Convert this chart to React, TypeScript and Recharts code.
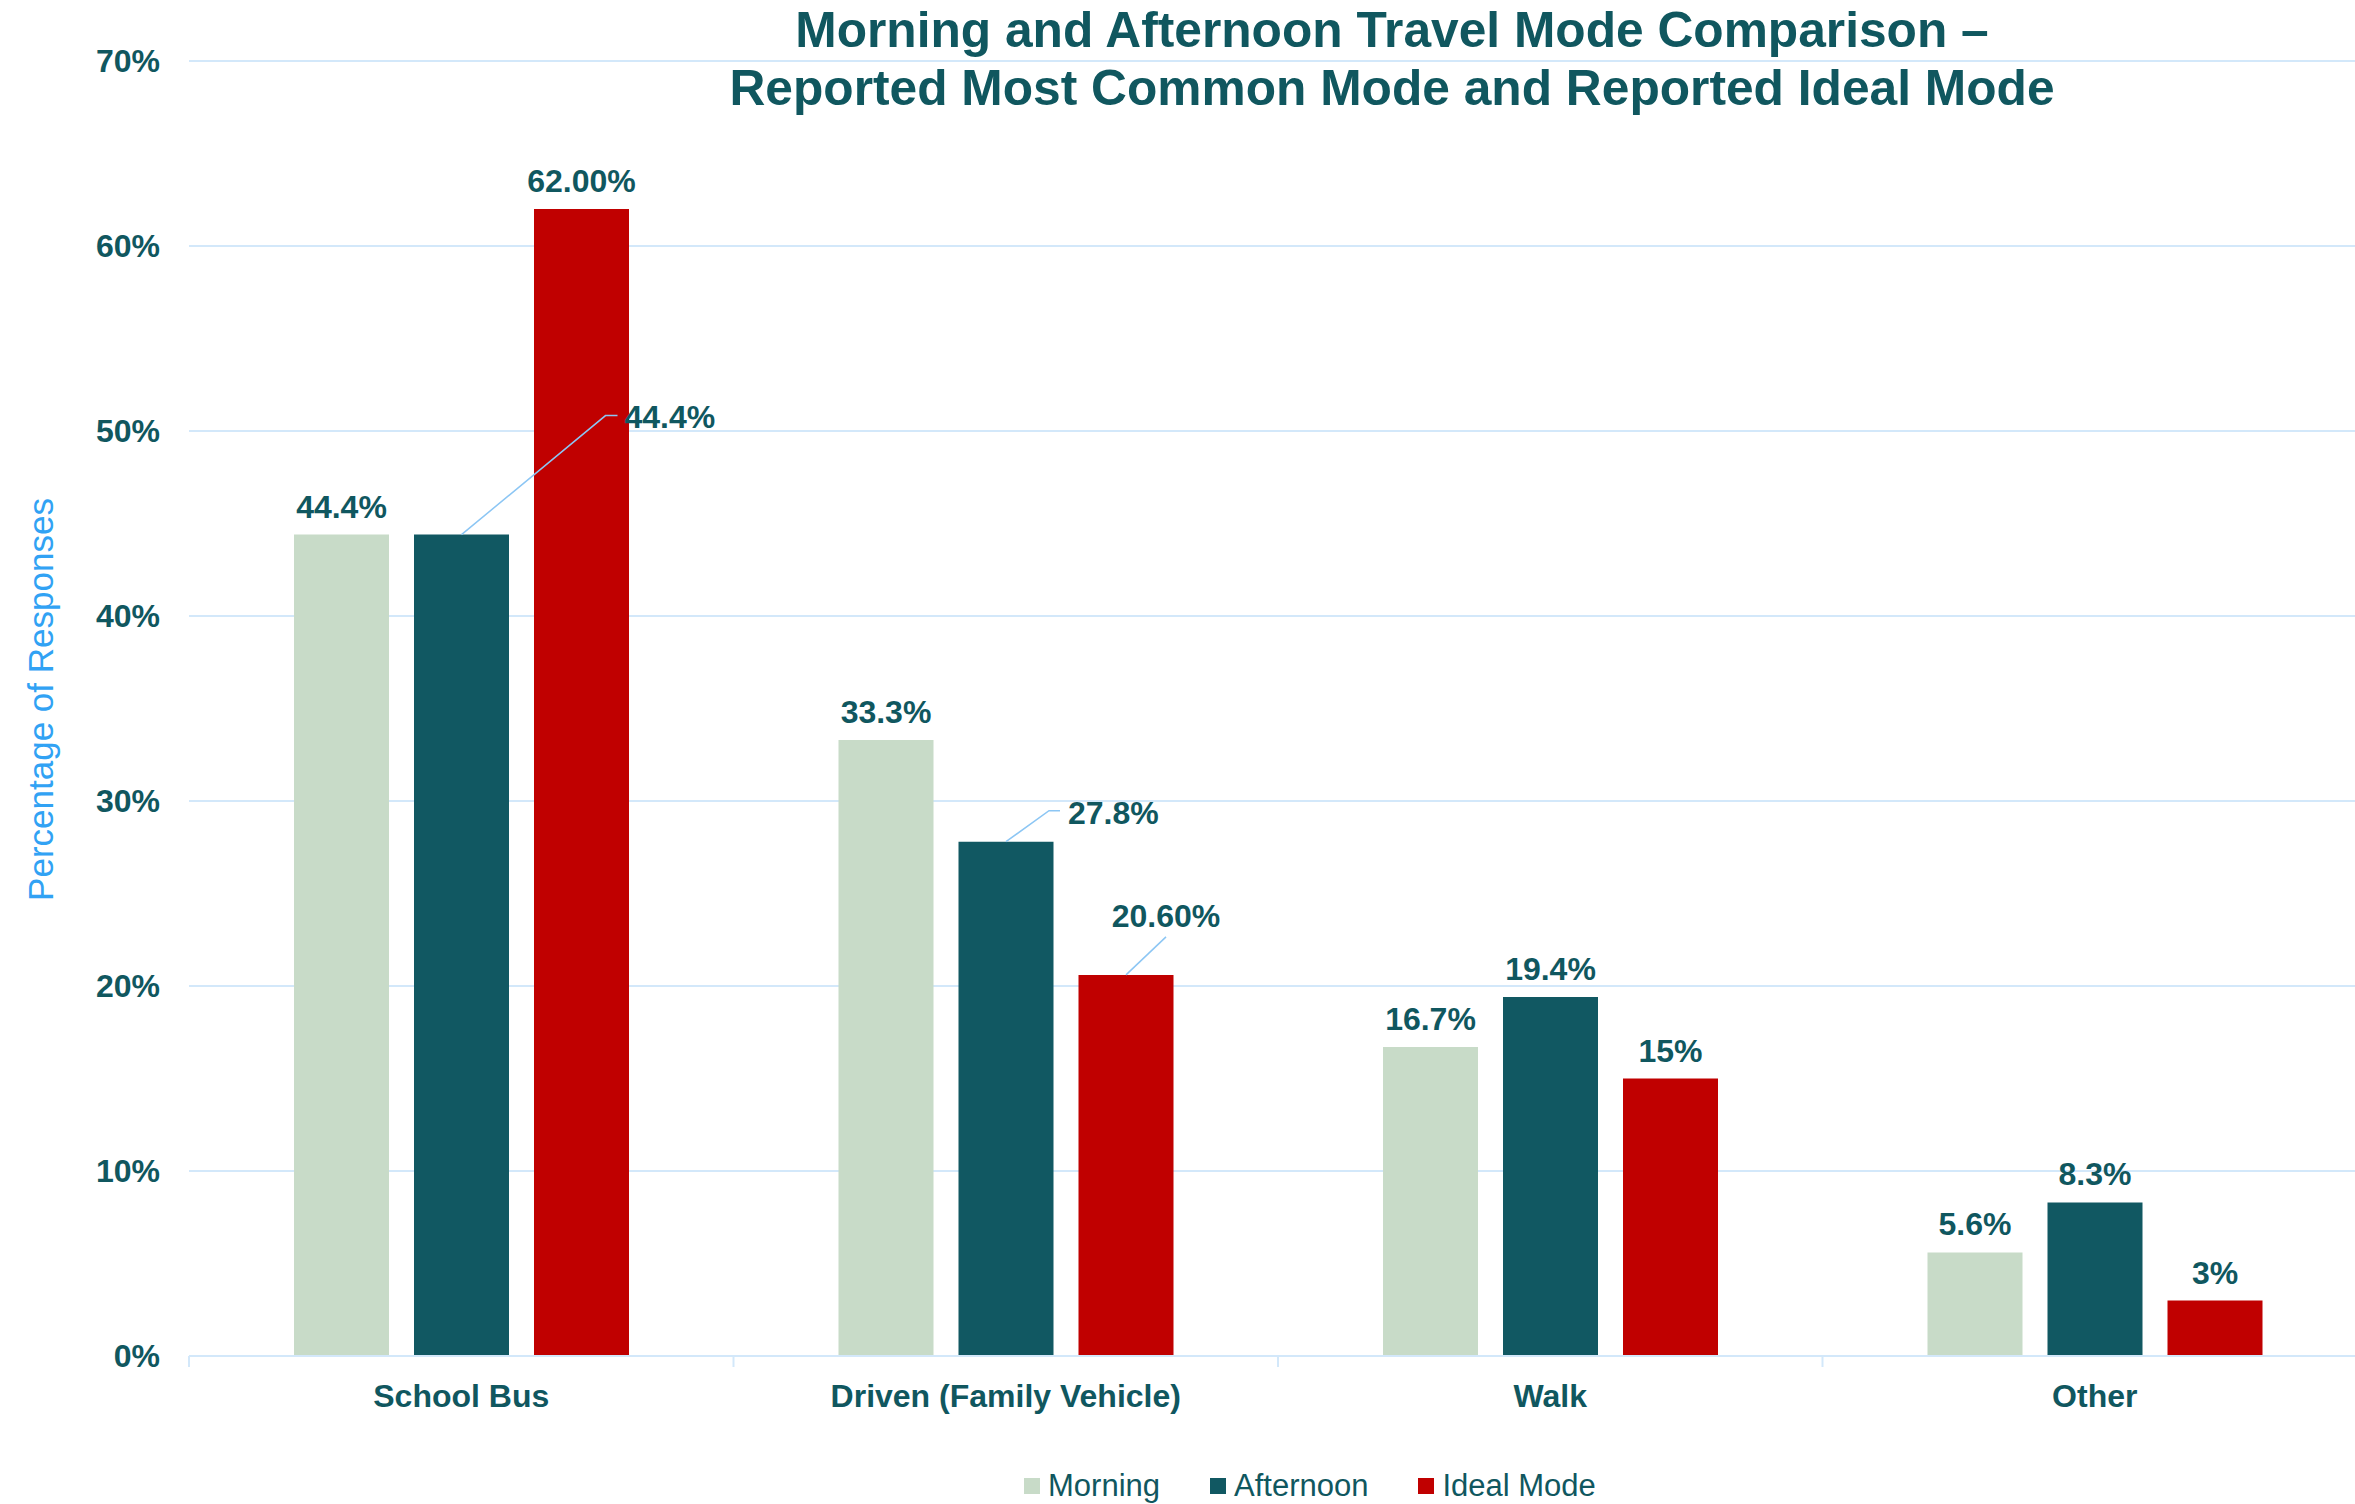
import React from 'react';
import { BarChart, Bar, XAxis, YAxis, CartesianGrid, LabelList, Label } from 'recharts';

// ---- data ----
const categories = ['School Bus', 'Driven (Family Vehicle)', 'Walk', 'Other'];
const morningValues = [44.4, 33.3, 16.7, 5.6];
const afternoonValues = [44.4, 27.8, 19.4, 8.3];
const idealValues = [62, 20.6, 15, 3];
const morningLabels = ['44.4%', '33.3%', '16.7%', '5.6%'];
const afternoonLabels = ['44.4%', '27.8%', '19.4%', '8.3%'];
const idealLabels = ['62.00%', '20.60%', '15%', '3%'];
const yTicks = [0, 10, 20, 30, 40, 50, 60, 70];

const titleLines = [
  'Morning and Afternoon Travel Mode Comparison \u2013',
  'Reported Most Common Mode and Reported Ideal Mode',
];
const yAxisTitle = 'Percentage of Responses';

// ---- styling ----
const FONT = '"Liberation Sans", Arial, Helvetica, sans-serif';
const TEAL = '#10575F';
const GRID = '#D3E8FA';
const LEADER = '#8CC6F4';
const AXIS_TITLE = '#31A2F4';

type SeriesKey = 'morning' | 'afternoon' | 'ideal';

const series: { key: SeriesKey; name: string; color: string; labels: string[] }[] = [
  { key: 'morning', name: 'Morning', color: '#C8DBC8', labels: morningLabels },
  { key: 'afternoon', name: 'Afternoon', color: '#115862', labels: afternoonLabels },
  { key: 'ideal', name: 'Ideal Mode', color: '#C00000', labels: idealLabels },
];

const data = categories.map((name, i) => ({
  name,
  morning: morningValues[i],
  afternoon: afternoonValues[i],
  ideal: idealValues[i],
}));

// Labels moved off their bar with a leader line; offsets are relative to the bar's top centre.
type Callout = { elbow: [number, number]; end: [number, number]; text: [number, number]; anchor: 'start' | 'middle' };
const callouts: Partial<Record<SeriesKey, Record<number, Callout>>> = {
  afternoon: {
    0: { elbow: [144, -119], end: [156, -119], text: [163, -107], anchor: 'start' },
    1: { elbow: [43, -31], end: [54, -31], text: [62, -18], anchor: 'start' },
  },
  ideal: {
    1: { elbow: [40, -38], end: [40, -38], text: [40, -48], anchor: 'middle' },
  },
};

const labelStyle = { fontFamily: FONT, fontSize: 32, fontWeight: 700, fill: TEAL } as const;

const makeValueLabel = (key: SeriesKey, texts: string[]) => (props: any) => {
  const { x, y, width, index } = props;
  const cx = Number(x) + Number(width) / 2;
  const top = Number(y);
  const text = texts[index];
  const c = callouts[key]?.[index];
  if (c) {
    const pts = [
      [cx, top],
      [cx + c.elbow[0], top + c.elbow[1]],
      [cx + c.end[0], top + c.end[1]],
    ]
      .map((p) => p.join(','))
      .join(' ');
    return (
      <g>
        <polyline points={pts} fill="none" stroke={LEADER} strokeWidth={1.5} />
        <text x={cx + c.text[0]} y={top + c.text[1]} textAnchor={c.anchor} style={labelStyle}>
          {text}
        </text>
      </g>
    );
  }
  return (
    <text x={cx} y={top - 17} textAnchor="middle" style={labelStyle}>
      {text}
    </text>
  );
};

// Category tick: boundary tick marks between bands plus a bold centred name.
const CategoryTick = (props: any) => {
  const { x, y, payload } = props;
  const half = Number(payload?.offset ?? 0);
  const isLast = payload?.index === categories.length - 1;
  return (
    <g>
      <line x1={x - half} x2={x - half} y1={y} y2={y + 11} stroke={GRID} strokeWidth={2} />
      {isLast && <line x1={x + half} x2={x + half} y1={y} y2={y + 11} stroke={GRID} strokeWidth={2} />}
      <text x={x} y={y + 51} textAnchor="middle" style={labelStyle}>
        {payload.value}
      </text>
    </g>
  );
};

const YTitle = (props: any) => {
  const vb = props.viewBox || {};
  const x = Number(vb.x) + 53;
  const y = Number(vb.y) + Number(vb.height) / 2 - 9;
  return (
    <text
      x={x}
      y={y}
      transform={`rotate(-90 ${x} ${y})`}
      textAnchor="middle"
      style={{ fontFamily: FONT, fontSize: 35, fill: AXIS_TITLE }}
    >
      {yAxisTitle}
    </text>
  );
};

export default function App() {
  return (
    <div
      style={{
        position: 'fixed',
        left: 0,
        top: 0,
        width: 2355,
        height: 1504,
        overflow: 'hidden',
        background: '#ffffff',
        fontFamily: FONT,
      }}
    >
      <BarChart
        width={2380}
        height={1504}
        data={data}
        margin={{ top: 61, right: 13, bottom: 88, left: 0 }}
        barSize={95}
        barGap={25}
      >
        <CartesianGrid vertical={false} stroke={GRID} strokeWidth={2} />
        <XAxis
          dataKey="name"
          height={60}
          interval={0}
          tickSize={0}
          tickMargin={0}
          tickLine={false}
          axisLine={{ stroke: GRID, strokeWidth: 2 }}
          tick={<CategoryTick />}
        />
        <YAxis
          width={189}
          domain={[0, 70]}
          ticks={yTicks}
          interval={0}
          axisLine={false}
          tickLine={false}
          tickSize={0}
          tickMargin={29}
          tickFormatter={(v: number) => `${v}%`}
          tick={{ fill: TEAL, fontSize: 32, fontWeight: 700, fontFamily: FONT }}
        >
          <Label content={<YTitle />} />
        </YAxis>
        {series.map((s) => (
          <Bar key={s.key} dataKey={s.key} name={s.name} fill={s.color} isAnimationActive={false}>
            <LabelList dataKey={s.key} content={makeValueLabel(s.key, s.labels)} />
          </Bar>
        ))}
      </BarChart>

      {/* Title */}
      <div
        style={{
          position: 'absolute',
          left: 692,
          top: 1,
          width: 1400,
          textAlign: 'center',
          color: TEAL,
          fontSize: 49.7,
          fontWeight: 700,
          lineHeight: '58px',
          whiteSpace: 'nowrap',
        }}
      >
        {titleLines.map((t) => (
          <div key={t}>{t}</div>
        ))}
      </div>

      {/* Legend */}
      <div
        style={{
          position: 'absolute',
          left: 1024,
          top: 1468,
          display: 'flex',
          alignItems: 'center',
          height: 36,
          color: TEAL,
          fontSize: 31,
          lineHeight: '36px',
          whiteSpace: 'nowrap',
        }}
      >
        {series.map((s, i) => (
          <div
            key={s.key}
            style={{ display: 'flex', alignItems: 'center', marginLeft: i === 0 ? 0 : 50 }}
          >
            <span style={{ width: 16, height: 16, background: s.color, display: 'inline-block', marginRight: 8 }} />
            <span>{s.name}</span>
          </div>
        ))}
      </div>
    </div>
  );
}
